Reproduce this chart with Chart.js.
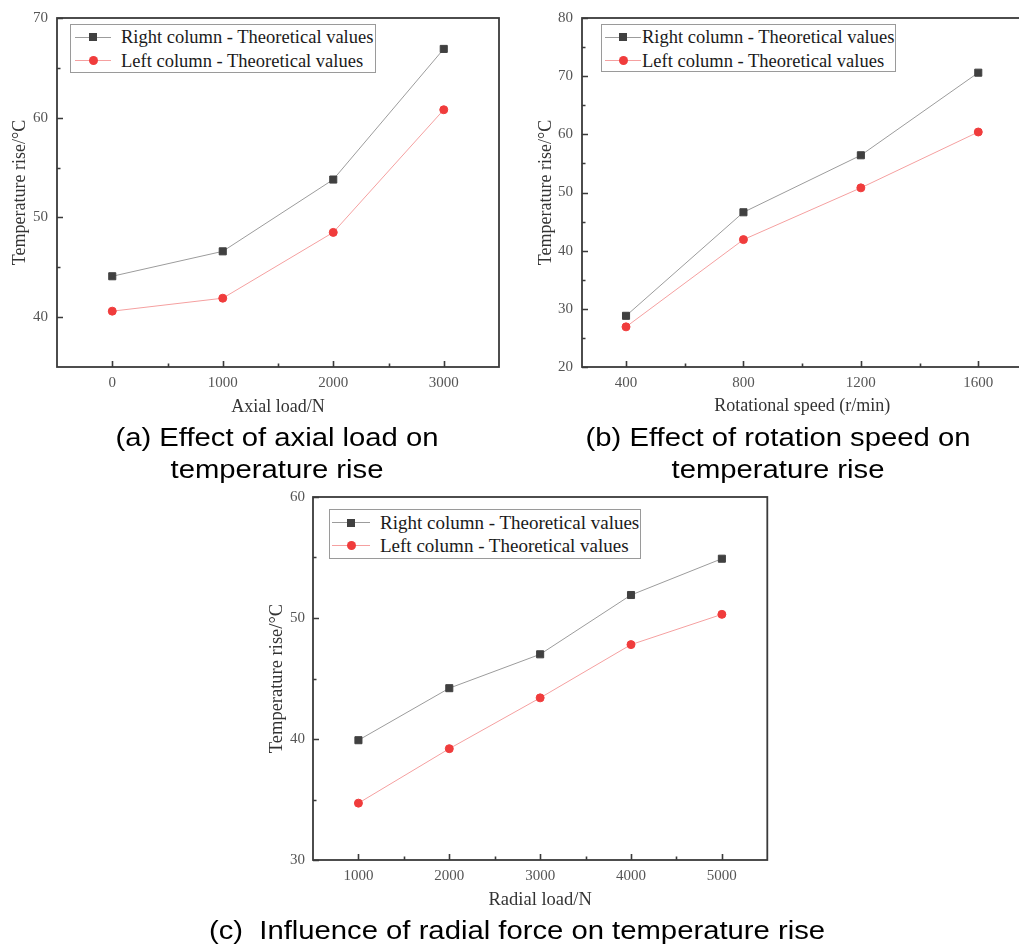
<!DOCTYPE html>
<html>
<head>
<meta charset="utf-8">
<script src="https://cdn.jsdelivr.net/npm/chart.js@4.4.1/dist/chart.umd.min.js"></script>
<style>
  html, body { margin: 0; padding: 0; background: #fff; overflow: hidden; }
  body { width: 1019px; height: 946px; position: relative; }
  canvas { position: absolute; }
  .legend { position: absolute; box-sizing: border-box; border: 1.5px solid #9a9a9a; background: #fff; z-index: 2; }
  .legend .line { position: absolute; height: 1px; }
  .legend .mk { position: absolute; }
  .legend .txt { position: absolute; white-space: nowrap; font-family: "Liberation Serif", serif; color: #1a1a1a; line-height: 20px; }
  .caption { position: absolute; width: 700px; text-align: center; font-family: "Liberation Sans", Arial, sans-serif;
             font-size: 25px; line-height: 32px; color: #000; transform: scaleX(1.17); z-index: 3; }
</style>
</head>
<body>
<canvas id="chart-a" width="510" height="420" style="left:0;top:0"></canvas>
<canvas id="chart-b" width="525" height="420" style="left:510px;top:0"></canvas>
<canvas id="chart-c" width="530" height="440" style="left:250px;top:480px"></canvas>

<div class="caption" style="left:-73px;top:421px">(a) Effect of axial load on<br>temperature rise</div>
<div class="caption" style="left:428px;top:421px">(b) Effect of rotation speed on<br>temperature rise</div>
<div class="caption" style="left:167px;top:914px">(c)&nbsp; Influence of radial force on temperature rise</div>

<script>
const seriesLabels = ['Right column - Theoretical values', 'Left column - Theoretical values'];

// (a) axial load
const axialLoad = [0, 1000, 2000, 3000];
const axialRight = [44.1, 46.6, 53.8, 66.9];
const axialLeft = [40.6, 41.9, 48.5, 60.8];
const axialTicks = [0, 1000, 2000, 3000];
const axialMinor = [500, 1500, 2500];
const tempTicksA = [40, 50, 60, 70];
const tempMinorA = [45, 55, 65];

// (b) rotational speed
const speed = [400, 800, 1200, 1600];
const speedRight = [28.8, 46.6, 56.4, 70.6];
const speedLeft = [26.9, 41.9, 50.8, 60.4];
const speedTicks = [400, 800, 1200, 1600];
const speedMinor = [600, 1000, 1400];
const tempTicksB = [20, 30, 40, 50, 60, 70, 80];
const tempMinorB = [25, 35, 45, 55, 65, 75];

// (c) radial load
const radialLoad = [1000, 2000, 3000, 4000, 5000];
const radialRight = [39.9, 44.2, 47.0, 51.9, 54.9];
const radialLeft = [34.7, 39.2, 43.4, 47.8, 50.3];
const radialTicks = [1000, 2000, 3000, 4000, 5000];
const radialMinor = [1500, 2500, 3500, 4500];
const tempTicksC = [30, 40, 50, 60];
const tempMinorC = [35, 45, 55];

const GRAY_LINE = '#9c9c9c', GRAY_MK = '#404040';
const RED_LINE = '#f5a0a0', RED_MK = '#f03c3c';

// frame + inward ticks, drawn from the chart's own scales
const framePlugin = {
    id: 'frame',
    afterDraw(chart) {
        const { ctx, chartArea: a, scales: { x, y } } = chart;
        const m = chart.options.plugins.frame;
        ctx.save();
        ctx.strokeStyle = '#3a3a3a';
        ctx.lineWidth = 1.6;
        ctx.beginPath();
        m.xMajor.concat(m.xMinor).forEach(v => {
            const px = Math.round(x.getPixelForValue(v)) + 0.5;
            const len = m.xMajor.includes(v) ? 6 : 3.5;
            ctx.moveTo(px, a.bottom); ctx.lineTo(px, a.bottom - len);
        });
        m.yMajor.concat(m.yMinor).forEach(v => {
            const py = Math.round(y.getPixelForValue(v)) + 0.5;
            const len = m.yMajor.includes(v) ? 6 : 3.5;
            ctx.moveTo(a.left, py); ctx.lineTo(a.left + len, py);
        });
        ctx.stroke();
        ctx.lineWidth = 1.8;
        ctx.strokeRect(a.left, a.top, a.right - a.left, a.bottom - a.top);
        ctx.restore();
    }
};

function makeChart(id, cfg) {
    const tickFont = { family: 'Liberation Serif', size: 15 };
    const titleFont = { family: 'Liberation Serif', size: cfg.titleSize || 18 };
    return new Chart(document.getElementById(id), {
        type: 'line',
        data: {
            datasets: [
                { label: seriesLabels[0], data: cfg.xs.map((v, i) => ({ x: v, y: cfg.right[i] })),
                  borderColor: GRAY_LINE, borderWidth: 1, pointStyle: 'rect', pointRadius: 5,
                  pointBackgroundColor: GRAY_MK, pointBorderColor: GRAY_MK, pointBorderWidth: 1 },
                { label: seriesLabels[1], data: cfg.xs.map((v, i) => ({ x: v, y: cfg.left[i] })),
                  borderColor: RED_LINE, borderWidth: 1, pointStyle: 'circle', pointRadius: 4,
                  pointBackgroundColor: RED_MK, pointBorderColor: RED_MK, pointBorderWidth: 1 }
            ]
        },
        options: {
            responsive: false,
            animation: false,
            layout: { padding: cfg.padding },
            plugins: {
                legend: { display: false },
                tooltip: { enabled: false },
                frame: { xMajor: cfg.xTicks, xMinor: cfg.xMinor, yMajor: cfg.yTicks, yMinor: cfg.yMinor }
            },
            scales: {
                x: {
                    type: 'linear', min: cfg.xRange[0], max: cfg.xRange[1],
                    afterBuildTicks: s => { s.ticks = cfg.xTicks.map(v => ({ value: v })); },
                    afterFit: s => { s.height = cfg.xHeight; },
                    grid: { display: false, drawTicks: false },
                    border: { display: false },
                    ticks: { font: tickFont, color: '#555', padding: 7, maxRotation: 0, autoSkip: false,
                             callback: v => String(v) },
                    title: { display: true, text: cfg.xTitle, font: titleFont, color: '#333', padding: { top: 0, bottom: cfg.xTitlePad } }
                },
                y: {
                    min: cfg.yRange[0], max: cfg.yRange[1],
                    afterBuildTicks: s => { s.ticks = cfg.yTicks.map(v => ({ value: v })); },
                    afterFit: s => { s.width = cfg.yWidth; },
                    grid: { display: false, drawTicks: false },
                    border: { display: false },
                    ticks: { font: tickFont, color: '#555', padding: cfg.yTickPad || 9, callback: v => String(v) },
                    title: { display: true, text: 'Temperature rise/°C', font: titleFont, color: '#333', padding: { top: cfg.yTitlePad, bottom: 0 } }
                }
            }
        },
        plugins: [framePlugin]
    });
}

makeChart('chart-a', {
    xs: axialLoad, right: axialRight, left: axialLeft,
    xRange: [-500, 3500], yRange: [35, 70],
    xTicks: axialTicks, xMinor: axialMinor, yTicks: tempTicksA, yMinor: tempMinorA,
    padding: { left: 0, top: 12, right: 11, bottom: 2 }, yWidth: 57, xHeight: 51,
    xTitle: 'Axial load/N', xTitlePad: 0.2, yTitlePad: 9.2
});

makeChart('chart-b', {
    xs: speed, right: speedRight, left: speedLeft,
    xRange: [250, 1750], yRange: [20, 80],
    xTicks: speedTicks, xMinor: speedMinor, yTicks: tempTicksB, yMinor: tempMinorB,
    padding: { left: 0, top: 13, right: 12.7, bottom: 2 }, yWidth: 72, xHeight: 51,
    xTitle: 'Rotational speed (r/min)', xTitlePad: 0.5, yTitlePad: 25.2
});

makeChart('chart-c', {
    xs: radialLoad, right: radialRight, left: radialLeft,
    xRange: [500, 5500], yRange: [30, 60],
    xTicks: radialTicks, xMinor: radialMinor, yTicks: tempTicksC, yMinor: tempMinorC,
    padding: { left: 0, top: 16, right: 12.7, bottom: 0 }, yWidth: 63, xHeight: 60,
    xTitle: 'Radial load/N', xTitlePad: 8.5, yTitlePad: 16.2, yTickPad: 8, titleSize: 18.5
});

// HTML legends placed inside each plot
const legendBoxes = [
    { left: 70, top: 24, width: 306, height: 49, rows: [13.7, 37], lineL: 4, lineR: 40, mk: 22, text: 50, size: 18.5 },
    { left: 601, top: 24, width: 295, height: 48, rows: [13.7, 37], lineL: 3, lineR: 39, mk: 21, text: 40, size: 18.5 },
    { left: 329, top: 509, width: 312, height: 50, rows: [14.3, 37], lineL: 2, lineR: 40, mk: 21, text: 50, size: 19 }
];
const legendStyles = [
    { line: GRAY_LINE, mk: GRAY_MK, shape: 'square' },
    { line: RED_LINE, mk: RED_MK, shape: 'circle' }
];
legendBoxes.forEach(b => {
    const box = document.createElement('div');
    box.className = 'legend';
    Object.assign(box.style, { left: b.left + 'px', top: b.top + 'px', width: b.width + 'px', height: b.height + 'px' });
    seriesLabels.forEach((label, i) => {
        const st = legendStyles[i];
        const cy = b.rows[i] - 1.5;
        const line = document.createElement('div');
        line.className = 'line';
        Object.assign(line.style, { left: b.lineL + 'px', width: (b.lineR - b.lineL) + 'px', top: (cy - 0.5) + 'px', background: st.line });
        const mk = document.createElement('div');
        mk.className = 'mk';
        const sz = st.shape === 'square' ? 8 : 9;
        Object.assign(mk.style, { left: (b.mk - sz / 2) + 'px', top: (cy - sz / 2) + 'px', width: sz + 'px', height: sz + 'px',
            background: st.mk, borderRadius: st.shape === 'circle' ? '50%' : '0' });
        const txt = document.createElement('span');
        txt.className = 'txt';
        txt.textContent = label;
        Object.assign(txt.style, { left: b.text + 'px', top: (cy - 10) + 'px', fontSize: b.size + 'px' });
        box.append(line, mk, txt);
    });
    document.body.appendChild(box);
});
</script>
</body>
</html>
